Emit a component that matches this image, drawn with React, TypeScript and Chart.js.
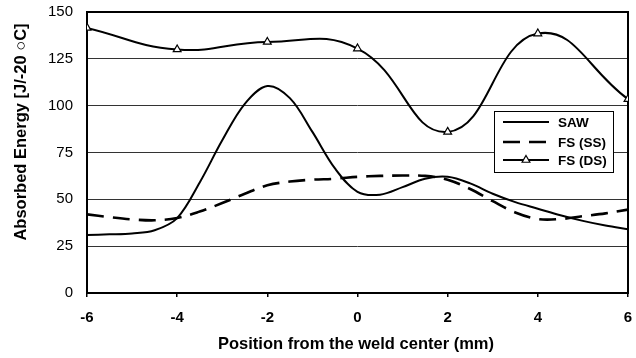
import React, { useEffect, useRef } from "react";
import { Chart, registerables } from "chart.js";

Chart.register(...registerables);

const FONT = "'Liberation Sans', Arial, sans-serif";

const sawPositions = [-6, -5.5, -5, -4.5, -4, -3.5, -3, -2.5, -2, -1.5, -1, -0.5, 0, 0.5, 1, 1.5, 2, 2.5, 3, 3.5, 4, 4.5, 5, 5.5, 6];
const sawValues = [31, 31.3, 31.8, 33.5, 40, 59, 81.5, 101, 110.5, 104, 86, 66.5, 54, 52.5, 56.5, 61, 62, 58.5, 53, 48.5, 45, 41.5, 38.5, 36, 34];

const ssPositions = [-6, -5.5, -5, -4.5, -4, -3.5, -3, -2.5, -2, -1.5, -1, -0.5, 0, 0.5, 1, 1.5, 2, 2.5, 3, 3.5, 4, 4.5, 5, 5.5, 6];
const ssValues = [42, 40.5, 39.3, 38.8, 40, 43.5, 48, 53, 57.5, 59.5, 60.5, 61, 62, 62.5, 62.7, 62.5, 60.5, 55.5, 49, 43, 39.5, 39.5, 41, 42.5, 44.5];

const dsPositions = [-6, -4, -2, 0, 2, 4, 6];
const dsValues = [141.5, 130, 134, 130.5, 86, 138.5, 103.5];

const seriesNames = ["SAW", "FS (SS)", "FS (DS)"];
const xTitle = "Position from the weld center (mm)";
const yTitle = "Absorbed Energy [J/-20 \u25CBC]";

const toPoints = (xs: number[], ys: number[]) => xs.map((x, i) => ({ x, y: ys[i] }));

const framePlugin = {
  id: "frame",
  beforeDatasetsDraw(chart: any) {
    const { ctx, chartArea } = chart;
    ctx.save();
    ctx.strokeStyle = "#000";
    ctx.lineWidth = 2;
    ctx.strokeRect(chartArea.left, chartArea.top, chartArea.right - chartArea.left, chartArea.bottom - chartArea.top);
    ctx.restore();
  },
  afterDraw(chart: any) {
    const { ctx, chartArea } = chart;
    ctx.save();
    // axis titles
    ctx.fillStyle = "#000";
    ctx.font = `bold 16.5px ${FONT}`;
    ctx.textAlign = "center";
    ctx.textBaseline = "middle";
    ctx.fillText(xTitle, 356, 344);
    ctx.save();
    ctx.translate(21, 132);
    ctx.rotate(-Math.PI / 2);
    ctx.fillText(yTitle, 0, 0);
    ctx.restore();

    // legend
    const lx = chartArea.right - 134;
    const ly = chartArea.top + 99;
    const lw = 119;
    const lh = 61;
    ctx.fillStyle = "#fff";
    ctx.fillRect(lx, ly, lw, lh);
    ctx.strokeStyle = "#000";
    ctx.lineWidth = 1;
    ctx.strokeRect(lx + 0.5, ly + 0.5, lw, lh);
    const rows = [ly + 11, ly + 31, ly + 49];
    const x0 = lx + 9;
    const x1 = lx + 55;
    chart.data.datasets.forEach((ds: any, i: number) => {
      const y = rows[i];
      ctx.save();
      ctx.strokeStyle = "#000";
      ctx.lineWidth = ds.borderWidth;
      ctx.setLineDash(ds.borderDash || []);
      ctx.beginPath();
      ctx.moveTo(x0, y);
      ctx.lineTo(x1, y);
      ctx.stroke();
      ctx.restore();
      if (ds.pointStyle === "triangle") {
        const cx = (x0 + x1) / 2;
        const r = 4.5;
        ctx.save();
        ctx.fillStyle = "#fff";
        ctx.strokeStyle = "#000";
        ctx.lineWidth = 1.2;
        ctx.beginPath();
        ctx.moveTo(cx, y - r);
        ctx.lineTo(cx + r * 0.866, y + r * 0.5);
        ctx.lineTo(cx - r * 0.866, y + r * 0.5);
        ctx.closePath();
        ctx.fill();
        ctx.stroke();
        ctx.restore();
      }
      ctx.fillStyle = "#000";
      ctx.font = `bold 13.5px ${FONT}`;
      ctx.textAlign = "left";
      ctx.textBaseline = "middle";
      ctx.fillText(ds.label, lx + 64, y + 1);
    });
    ctx.restore();
  },
};

export default function App() {
  const ref = useRef<HTMLCanvasElement>(null);
  useEffect(() => {
    if (!ref.current) return;
    const chart = new Chart(ref.current, {
      type: "line",
      data: {
        datasets: [
          {
            label: seriesNames[0],
            data: toPoints(sawPositions, sawValues),
            borderColor: "#000",
            borderWidth: 2,
            pointRadius: 0,
            tension: 0.35,
            fill: false,
          },
          {
            label: seriesNames[1],
            data: toPoints(ssPositions, ssValues),
            borderColor: "#000",
            borderWidth: 2.6,
            borderDash: [17, 9],
            pointRadius: 0,
            tension: 0.35,
            fill: false,
          },
          {
            label: seriesNames[2],
            data: toPoints(dsPositions, dsValues),
            borderColor: "#000",
            borderWidth: 2,
            pointStyle: "triangle",
            pointRadius: 4.5,
            pointBackgroundColor: "#fff",
            pointBorderColor: "#000",
            pointBorderWidth: 1.2,
            tension: 0.45,
            fill: false,
          },
        ],
      },
      options: {
        animation: false,
        responsive: false,
        devicePixelRatio: 1,
        layout: { padding: { top: 12, right: 8, left: 0, bottom: 0 } },
        plugins: { legend: { display: false }, tooltip: { enabled: false } },
        scales: {
          x: {
            type: "linear",
            min: -6,
            max: 6,
            border: { display: false },
            grid: { drawOnChartArea: false, drawTicks: true, tickLength: 4, color: "#000", lineWidth: 1.5 },
            ticks: {
              stepSize: 2,
              color: "#000",
              padding: 12,
              font: { family: FONT, size: 15, weight: "bold" },
            },
            afterFit: (s: any) => {
              s.height = 65;
              s.paddingLeft = 0;
              s.paddingRight = 0;
            },
          },
          y: {
            min: 0,
            max: 150,
            border: { display: false },
            grid: { color: "#333", lineWidth: 1, drawTicks: false },
            ticks: {
              stepSize: 25,
              color: "#000",
              padding: 14,
              font: { family: FONT, size: 15 },
            },
            afterFit: (s: any) => {
              s.width = 87;
              s.paddingTop = 0;
              s.paddingBottom = 0;
            },
          },
        },
      },
      plugins: [framePlugin],
    } as any);
    return () => chart.destroy();
  }, []);
  return (
    <div style={{ position: "absolute", left: 0, top: 0, width: 636, height: 358, background: "#fff" }}>
      <canvas ref={ref} width={636} height={358} />
    </div>
  );
}
